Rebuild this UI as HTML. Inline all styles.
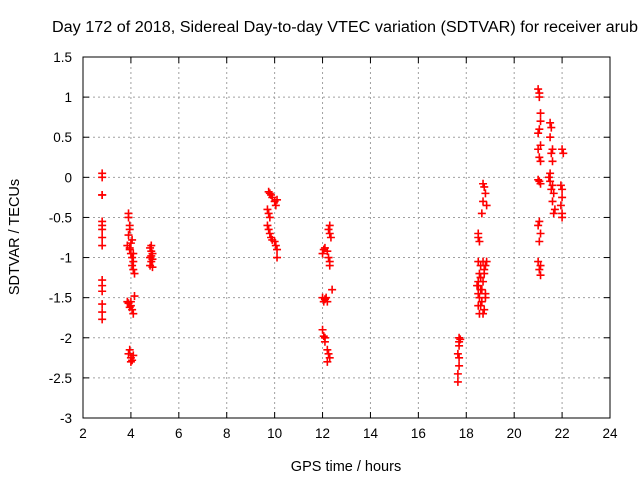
<!DOCTYPE html>
<html><head><meta charset="utf-8"><style>
body{margin:0;background:#fff;}
svg text{font-family:"Liberation Sans",sans-serif;fill:#000;}
</style></head><body>
<svg id="chart" width="640" height="480" viewBox="0 0 640 480" xmlns="http://www.w3.org/2000/svg">
<text x="52" y="32" font-size="15.5" textLength="586" lengthAdjust="spacingAndGlyphs">Day 172 of 2018, Sidereal Day-to-day VTEC variation (SDTVAR) for receiver arub</text>
<g id="grid"></g>
<g id="ticks"></g>
<rect x="83" y="57" width="527" height="361" fill="none" stroke="#000" stroke-width="1"/>
<g id="marks"></g>
<text x="346" y="471" font-size="14.5" text-anchor="middle">GPS time / hours</text>
<text transform="translate(19,237) rotate(-90)" font-size="14.5" text-anchor="middle">SDTVAR / TECUs</text>
</svg>
<script>
const xTicks=[2,4,6,8,10,12,14,16,18,20,22,24];
const yTicks=[1.5,1,0.5,0,-0.5,-1,-1.5,-2,-2.5,-3];
const yTickLabels=["1.5","1","0.5","0","-0.5","-1","-1.5","-2","-2.5","-3"];
const hours=[
2.8,2.8,2.8,2.8,2.8,2.8,2.8,2.8,2.8,2.8,2.8,2.8,2.8,2.8,2.8,
3.9,3.9,3.95,3.95,3.9,3.85,3.95,4.0,3.95,4.0,4.05,4.1,4.05,4.1,4.15,4.05,4.1,
3.85,3.9,4.0,3.95,4.05,4.1,4.15,4.0,
3.9,4.0,4.05,4.1,3.95,4.0,
4.85,4.8,4.85,4.9,4.85,4.8,4.9,4.85,4.8,4.9,
9.75,9.8,9.85,9.9,10.0,10.05,10.1,9.7,9.75,9.8,9.7,9.75,9.8,9.85,9.9,10.0,10.05,10.1,10.1,
12.3,12.25,12.3,12.35,12.0,12.05,12.1,12.2,12.25,12.3,12.3,12.4,12.0,12.05,12.1,12.15,12.2,
12.0,12.05,12.1,12.1,12.2,12.25,12.2,12.3,
17.7,17.75,17.7,17.7,17.65,17.7,17.7,17.65,17.65,
18.7,18.75,18.8,18.7,18.85,18.65,18.5,18.5,18.55,
18.5,18.6,18.7,18.8,18.85,18.55,18.6,18.7,18.75,18.5,18.6,18.8,18.45,18.55,18.65,18.8,18.5,18.6,18.75,18.5,18.55,18.7,18.6,18.75,18.5,18.65,
21.0,21.05,21.05,21.1,21.1,21.05,21.0,21.1,21.0,21.05,21.1,21.0,21.05,21.1,21.05,21.0,21.1,21.05,21.0,21.1,21.05,21.1,
21.5,21.55,21.5,21.6,21.55,21.6,21.5,21.45,21.5,21.6,21.55,21.65,21.6,21.7,21.65,
22.0,22.05,21.95,22.0,22.0,21.95,22.0,22.0
];
const values=[
0.05,0.0,-0.22,-0.22,-0.55,-0.6,-0.65,-0.75,-0.85,-1.28,-1.35,-1.42,-1.58,-1.68,-1.77,
-0.45,-0.5,-0.6,-0.65,-0.72,-0.85,-0.88,-0.82,-0.9,-0.95,-1.0,-1.05,-1.1,-1.15,-1.2,-0.78,-0.95,
-1.55,-1.57,-1.6,-1.62,-1.65,-1.7,-1.48,-1.55,
-2.2,-2.25,-2.28,-2.22,-2.15,-2.3,
-0.85,-0.88,-0.92,-0.95,-0.98,-1.0,-1.02,-1.05,-1.1,-1.12,
-0.18,-0.2,-0.22,-0.25,-0.3,-0.35,-0.28,-0.4,-0.45,-0.5,-0.6,-0.65,-0.7,-0.75,-0.78,-0.8,-0.85,-0.9,-1.0,
-0.6,-0.65,-0.7,-0.75,-0.95,-0.9,-0.88,-0.92,-1.0,-1.05,-1.1,-1.4,-1.5,-1.55,-1.52,-1.5,-1.55,
-1.9,-1.98,-2.0,-2.05,-2.15,-2.2,-2.3,-2.25,
-2.0,-2.02,-2.05,-2.1,-2.2,-2.25,-2.35,-2.45,-2.55,
-0.08,-0.12,-0.2,-0.3,-0.35,-0.45,-0.7,-0.75,-0.8,
-1.05,-1.1,-1.05,-1.1,-1.05,-1.2,-1.25,-1.3,-1.2,-1.35,-1.4,-1.45,-1.35,-1.5,-1.55,-1.5,-1.45,-1.6,-1.65,-1.6,-1.7,-1.7,-1.25,-1.15,-1.3,-1.4,
1.1,1.05,1.0,0.8,0.7,0.6,0.55,0.4,0.35,0.25,0.2,-0.03,-0.05,-0.08,-0.55,-0.6,-0.7,-0.8,-1.05,-1.1,-1.15,-1.22,
0.68,0.62,0.5,0.35,0.3,0.2,0.05,0.0,-0.05,-0.1,-0.15,-0.2,-0.3,-0.4,-0.45,
0.35,0.3,-0.1,-0.15,-0.25,-0.35,-0.45,-0.5
];
const L=83,R=610,T=57,B=418;
const xs=h=>L+(h-2)/(24-2)*(R-L);
const ys=v=>T+(1.5-v)/(1.5+3)*(B-T);
const NS="http://www.w3.org/2000/svg";
const grid=document.getElementById('grid'),ticks=document.getElementById('ticks'),marks=document.getElementById('marks');
function mk(tag,attrs,parent){const e=document.createElementNS(NS,tag);for(const k in attrs)e.setAttribute(k,attrs[k]);parent.appendChild(e);return e;}
xTicks.forEach(t=>{const x=xs(t);
 if(t>2&&t<24){const g=mk('line',{x1:x,x2:x,y1:T,y2:B,stroke:'#a0a0a0','stroke-dasharray':'2,3'},grid);
 
 }
 mk('line',{x1:x,x2:x,y1:B,y2:B-6,stroke:'#000'},ticks);mk('line',{x1:x,x2:x,y1:T,y2:T+6,stroke:'#000'},ticks);
 const tx=mk('text',{x:x,y:B+20,'font-size':'13.5','text-anchor':'middle'},ticks);tx.textContent=t;
 
 
});
yTicks.forEach((t,i)=>{const y=ys(t);
 if(i>0&&i<yTicks.length-1){const g=mk('line',{x1:L,x2:R,y1:y,y2:y,stroke:'#a0a0a0','stroke-dasharray':'2,3'},grid);
 
 }
 mk('line',{x1:L,x2:L+6,y1:y,y2:y,stroke:'#000'},ticks);mk('line',{x1:R,x2:R-6,y1:y,y2:y,stroke:'#000'},ticks);
 const tx=mk('text',{x:L-11,y:y+5,'font-size':'13.5','text-anchor':'end'},ticks);tx.textContent=yTickLabels[i];
 
 
});
hours.forEach((h,i)=>{const x=xs(h),y=ys(values[i]);
 const p=mk('path',{d:`M${x-4},${y}H${x+4}M${x},${y-4}V${y+4}`,stroke:'#f00','stroke-width':'1.6',fill:'none'},marks);
 
 
});
</script>
</body></html>
